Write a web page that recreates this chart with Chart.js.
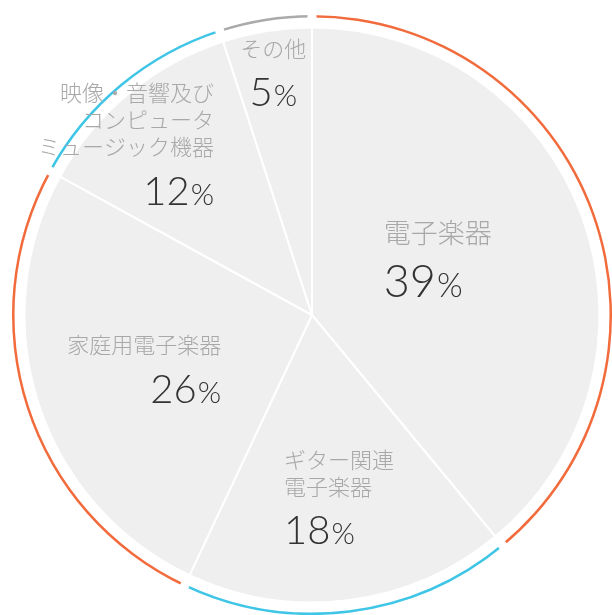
<!DOCTYPE html>
<html>
<head>
<meta charset="utf-8">
<script src="https://cdn.jsdelivr.net/npm/chart.js@4"></script>
<style>
  html, body { margin: 0; padding: 0; background: #fff; }
</style>
</head>
<body>
<canvas id="myChart" width="612" height="615"></canvas>
<script>
const categories = [
  "電子楽器",
  "ギター関連\n電子楽器",
  "家庭用電子楽器",
  "映像・音響及び\nコンピュータ\nミュージック機器",
  "その他",
];
const shares = [39, 18, 26, 12, 5];

const ringColors = ["#f26b3d", "#3fc5e6", "#f26b3d", "#3fc5e6", "#aaaaaa"];

// label placement: angle shift from slice middle (deg), radius fraction, alignment, name size, number size
const labelStyle = [
  { shift: -19, r: 0.32, align: "left", name: 27, num: 45 },
  { shift: 16, r: 0.635, align: "left", name: 22, num: 40 },
  { shift: -12, r: 0.365, align: "right", name: 22, num: 40 },
  { shift: 10, r: 0.69, align: "right", name: 22, num: 40 },
  { shift: 0, r: 0.86, align: "center", name: 22, num: 40 },
];

const nameFont = "'Noto Sans CJK JP', 'Noto Sans', sans-serif";
const numFont = "Lato, 'Open Sans', sans-serif";

// white cuts in the outer ring at every slice boundary
const ringGaps = {
  id: "ringGaps",
  afterDatasetsDraw(chart) {
    const ctx = chart.ctx;
    const meta = chart.getDatasetMeta(0);
    ctx.save();
    ctx.strokeStyle = "#ffffff";
    ctx.lineWidth = 9;
    meta.data.forEach((arc) => {
      const a = arc.startAngle;
      ctx.beginPath();
      ctx.moveTo(arc.x + Math.cos(a) * (arc.innerRadius - 2), arc.y + Math.sin(a) * (arc.innerRadius - 2));
      ctx.lineTo(arc.x + Math.cos(a) * (arc.outerRadius + 2), arc.y + Math.sin(a) * (arc.outerRadius + 2));
      ctx.stroke();
    });
    ctx.restore();
  },
};

const sliceLabels = {
  id: "sliceLabels",
  afterDatasetsDraw(chart) {
    const ctx = chart.ctx;
    const meta = chart.getDatasetMeta(2);
    ctx.save();
    ctx.textBaseline = "middle";
    meta.data.forEach((arc, i) => {
      const st = labelStyle[i];
      const mid = (arc.startAngle + arc.endAngle) / 2 + (st.shift * Math.PI) / 180;
      const ax = arc.x + Math.cos(mid) * arc.outerRadius * st.r;
      const ay = arc.y + Math.sin(mid) * arc.outerRadius * st.r;

      const lines = categories[i].split("\n");
      const lh = st.name + 5;
      const gap = st.num + 5;
      const h = (lines.length - 1) * lh + gap;
      const y0 = ay - h / 2;

      ctx.fillStyle = "#a8a8a8";
      ctx.font = "300 " + st.name + "px " + nameFont;
      ctx.textAlign = st.align;
      lines.forEach((ln, k) => {
        ctx.fillText(ln, ax, y0 + k * lh);
      });

      // number with a smaller percent sign
      const py = y0 + (lines.length - 1) * lh + gap;
      const numText = String(shares[i]);
      const pctSize = Math.round(st.num * 0.74);
      ctx.font = "300 " + st.num + "px " + numFont;
      const wNum = ctx.measureText(numText).width;
      ctx.font = "300 " + pctSize + "px " + numFont;
      const wPct = ctx.measureText("%").width;
      const total = wNum + wPct + 1;
      let left = ax;
      if (st.align === "right") left = ax - total;
      if (st.align === "center") left = ax - total / 2;
      ctx.textAlign = "left";
      ctx.fillStyle = "#333333";
      ctx.font = "300 " + st.num + "px " + numFont;
      ctx.fillText(numText, left, py);
      ctx.font = "300 " + pctSize + "px " + numFont;
      ctx.fillText("%", left + wNum + 1, py + st.num * 0.08);
    });
    ctx.restore();
  },
};

const data = {
  labels: categories,
  datasets: [
    {
      // outer thin ring
      data: shares,
      backgroundColor: ringColors,
      borderWidth: 0,
      weight: 2.5,
    },
    {
      // white spacer between ring and pie
      data: shares,
      backgroundColor: "rgba(0,0,0,0)",
      borderWidth: 0,
      weight: 10,
    },
    {
      data: shares,
      backgroundColor: "#efefef",
      borderColor: "#ffffff",
      borderWidth: 2,
      weight: 286.5,
    },
  ],
};

const config = {
  type: "doughnut",
  data: data,
  options: {
    responsive: false,
    animation: false,
    cutout: 0,
    layout: {
      padding: { left: 12, top: 15, right: 0, bottom: 0 },
    },
    plugins: {
      legend: { display: false },
      tooltip: { enabled: false },
    },
    events: [],
  },
  plugins: [ringGaps, sliceLabels],
};

const myChart = new Chart(document.getElementById("myChart"), config);
</script>
</body>
</html>
